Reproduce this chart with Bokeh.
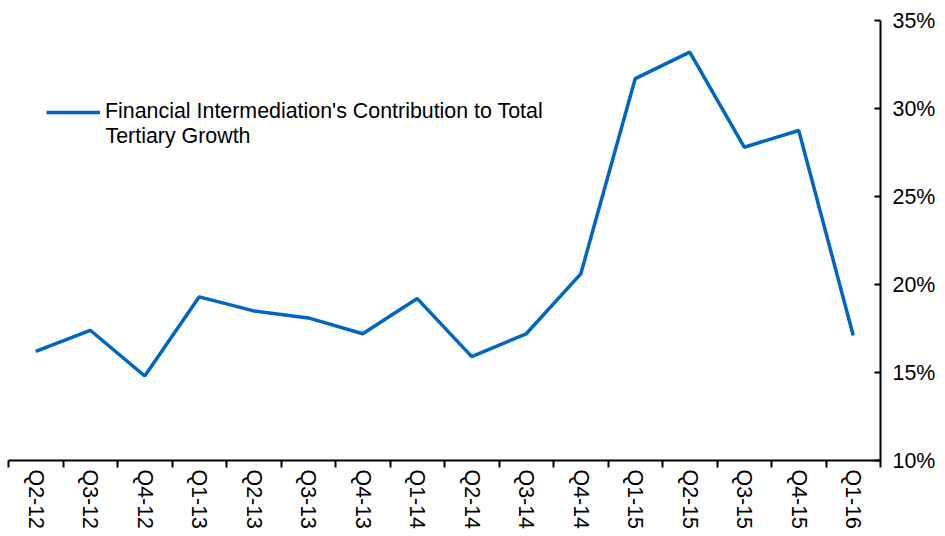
import math
from bokeh.plotting import figure
from bokeh.models import (Range1d, LinearAxis, FixedTicker, PrintfTickFormatter,
                          Legend, LegendItem, ColumnDataSource, Label)
from bokeh.embed import file_html
from bokeh.resources import INLINE

quarters = ["Q2-12", "Q3-12", "Q4-12", "Q1-13", "Q2-13", "Q3-13", "Q4-13", "Q1-14",
            "Q2-14", "Q3-14", "Q4-14", "Q1-15", "Q2-15", "Q3-15", "Q4-15", "Q1-16"]
contribution = [16.2, 17.4, 14.8, 19.3, 18.5, 18.1, 17.2, 19.2,
                15.9, 17.2, 20.6, 31.7, 33.2, 27.8, 28.75, 17.1]
y_ticks = [10, 15, 20, 25, 30, 35]
series_name_line1 = "Financial Intermediation's Contribution to Total"
series_name_line2 = "Tertiary Growth"

xpos = [i + 0.5 for i in range(len(quarters))]
src = ColumnDataSource(dict(x=xpos, y=contribution))

FONT = "Liberation Sans"
FS = "21.4px"

p = figure(frame_width=872, frame_height=440, output_backend="svg", toolbar_location=None,
           x_range=Range1d(0, len(quarters)), y_range=Range1d(10, 35),
           x_axis_location=None, y_axis_location=None,
           min_border_left=8, min_border_top=20, min_border_right=5, min_border_bottom=5)
p.outline_line_color = None
p.xgrid.visible = False
p.ygrid.visible = False
p.background_fill_color = "white"
p.border_fill_color = "white"

line = p.line("x", "y", source=src, line_color="#0066C4", line_width=3.5)

# x axis: labels at category centres, ticks at boundaries
xax = LinearAxis(ticker=FixedTicker(ticks=xpos, minor_ticks=list(range(len(quarters) + 1))),
                 major_label_overrides={x: q for x, q in zip(xpos, quarters)})
xax.major_tick_out = 0
xax.major_tick_in = 0
xax.minor_tick_out = 7
xax.minor_tick_in = 0
xax.minor_tick_line_color = "black"
xax.minor_tick_line_width = 2
xax.axis_line_width = 2
xax.axis_line_color = "black"
xax.major_label_orientation = -math.pi / 2
xax.major_label_text_font = FONT
xax.major_label_text_font_size = FS
xax.major_label_text_color = "black"
xax.major_label_standoff = 2
p.add_layout(xax, "below")

yax = LinearAxis(ticker=FixedTicker(ticks=y_ticks), formatter=PrintfTickFormatter(format="%d%%"))
yax.major_tick_in = 6
yax.major_tick_out = 0
yax.minor_tick_out = 0
yax.minor_tick_in = 0
yax.major_tick_line_width = 2
yax.axis_line_width = 2
yax.axis_line_color = "black"
yax.major_label_text_font = FONT
yax.major_label_text_font_size = FS
yax.major_label_text_color = "black"
yax.major_label_standoff = 12
p.add_layout(yax, "right")

legend = Legend(items=[LegendItem(label=series_name_line1, renderers=[line])],
                border_line_color=None, background_fill_alpha=0,
                label_text_font=FONT, label_text_font_size=FS, label_text_color="black",
                glyph_width=54, glyph_height=20, label_standoff=5, padding=0, margin=0,
                label_height=20)
p.add_layout(legend, "center")
legend.location = (38, 336)

second = Label(x=97, y=325, x_units="screen", y_units="screen", text=series_name_line2,
               text_font=FONT, text_font_size=FS, text_color="black", text_baseline="middle")
p.add_layout(second)

open("out.html", "w").write(file_html(p, INLINE))
